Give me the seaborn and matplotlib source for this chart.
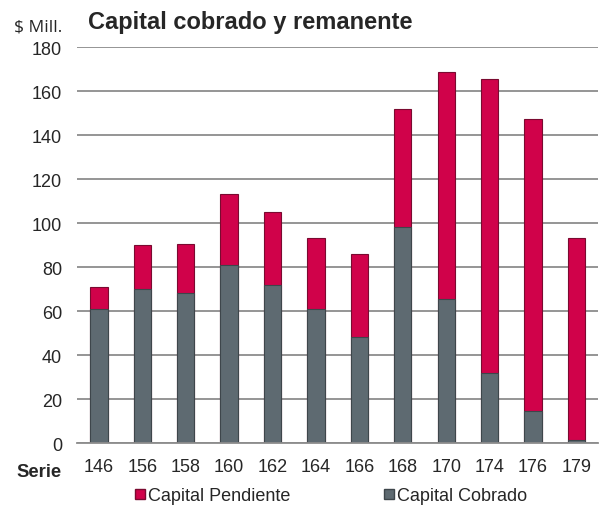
import pandas as pd
import matplotlib.pyplot as plt
import seaborn as sns
from matplotlib.patches import Patch

# Data ($ Mill.)
series = ['146', '156', '158', '160', '162', '164', '166', '168', '170', '174', '176', '179']
cobrado = [61, 70, 68, 81, 72, 61, 48, 98, 65.5, 32, 14.5, 1.5]
total = [71, 90, 90.5, 113, 105, 93, 86, 152, 168.5, 165.5, 147.5, 93]

df = pd.DataFrame({'serie': series, 'cobrado': cobrado, 'total': total})

red = '#D0024A'
gray = '#5E6A71'

sns.set_style('white')
plt.rcParams['font.family'] = ['Liberation Sans', 'DejaVu Sans']

fig = plt.figure(figsize=(6.03, 5.06), dpi=100)
ax = fig.add_axes([0.128, 0.1225, 0.864, 0.7825])

# Stacked bars: pendiente on top of cobrado -> draw total first
sns.barplot(data=df, x='serie', y='total', color=red, width=0.4,
            edgecolor='#7a0a30', linewidth=0.8, saturation=1, ax=ax)
sns.barplot(data=df, x='serie', y='cobrado', color=gray, width=0.4,
            edgecolor='#3e464b', linewidth=0.8, saturation=1, ax=ax)

ax.set_ylim(0, 180)
ax.set_yticks(range(0, 181, 20))
ax.set_xlim(-0.5, len(series) - 0.5)
ax.yaxis.grid(True, color='#8c8c8c', linewidth=1.3)
ax.set_axisbelow(True)

for s in ['top', 'right', 'left']:
    ax.spines[s].set_visible(False)
ax.spines['bottom'].set_color('#8c8c8c')
ax.spines['bottom'].set_linewidth(1.3)

ax.tick_params(axis='y', length=0, labelsize=13, pad=11)
ax.tick_params(axis='x', which='major', length=0, labelsize=13, pad=11)
ax.set_xticks([i - 0.5 for i in range(len(series) + 1)], minor=True)
ax.tick_params(axis='x', which='minor', length=5, color='#8c8c8c', width=1.2)

ax.set_xlabel('')
ax.set_ylabel('')

fig.text(0.146, 0.955, 'Capital cobrado y remanente', fontsize=17, fontweight='bold',
         ha='left', va='center')
fig.text(0.023, 0.946, '$ Mill.', fontsize=12.5, ha='left', va='center',
         family=['Open Sans', 'DejaVu Sans'])
fig.text(0.028, 0.066, 'Serie', fontsize=13.3, fontweight='bold', ha='left', va='center')

handles = [Patch(facecolor=red, edgecolor='#7a0a30', label='Capital Pendiente'),
           Patch(facecolor=gray, edgecolor='#3e464b', label='Capital Cobrado')]
fig.legend(handles=handles, loc='center', bbox_to_anchor=(0.549, 0.018), ncol=2,
           frameon=False, fontsize=13, handlelength=0.55, handleheight=0.55,
           handletextpad=0.15, columnspacing=5.2, borderpad=0, borderaxespad=0)

fig.savefig('out.png', dpi=100)
plt.close()
